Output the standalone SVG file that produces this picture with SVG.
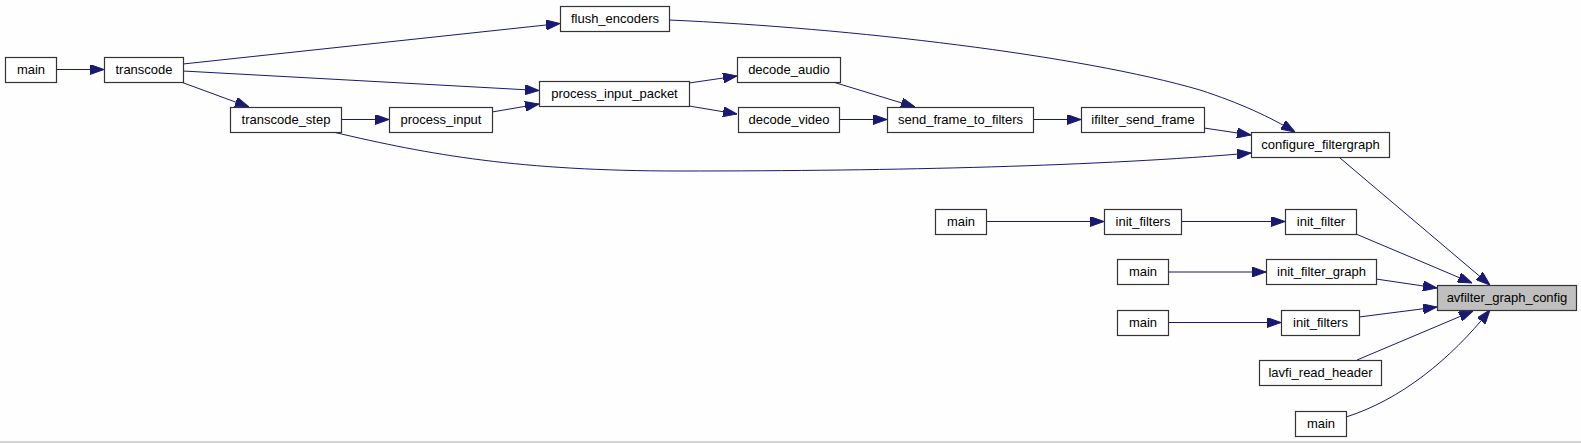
<svg xmlns="http://www.w3.org/2000/svg" width="1581" height="443" viewBox="0 0 1581 443">
<style>
.n rect{fill:#ffffff;stroke:#333333;stroke-width:1.2}
.n.hl rect{fill:#bfbfbf}
.n text{font-family:"Liberation Sans",Arial,sans-serif;font-size:13px;text-anchor:middle;fill:#000000}
#edges path{fill:none;stroke:#191970;stroke-width:1;marker-end:url(#ah)}
</style>
<defs>
<marker id="ah" markerWidth="14" markerHeight="10" refX="14" refY="5" orient="auto" markerUnits="userSpaceOnUse">
<path d="M0,0 L14,5 L0,10 z" fill="#191970" stroke="#191970" stroke-width="1"/>
</marker>
</defs>
<rect x="0" y="0" width="1581" height="443" fill="#fdfefd"/>
<line x1="0" y1="442" x2="1581" y2="442" stroke="#a8a8a8" stroke-width="1"/>
<g id="edges">
<path d="M56,69.5 L104,69.5"/>
<path d="M183,64 L560,23.5"/>
<path d="M183,71 L539,90.5"/>
<path d="M181,82 L249,107"/>
<path d="M341,119.5 L389,119.5"/>
<path d="M333,132 C430,155 520,171 680,171 C900,171 1100,166 1251,153"/>
<path d="M492,112 L539,104"/>
<path d="M689,83 L737,76"/>
<path d="M689,106 L737,114"/>
<path d="M833,82 L915,107"/>
<path d="M839,119.5 L887,119.5"/>
<path d="M1033,119.5 L1081,119.5"/>
<path d="M1204,128 L1251,135"/>
<path d="M669,20 C850,28 1080,55 1200,90 C1240,103 1270,117 1295,132"/>
<path d="M1340,158 L1490,285"/>
<path d="M986,221.5 L1104,221.5"/>
<path d="M1181,221.5 L1285,221.5"/>
<path d="M1356,234 L1472,283"/>
<path d="M1168,272 L1266,272"/>
<path d="M1376,279 L1437,288"/>
<path d="M1168,322.5 L1281,322.5"/>
<path d="M1359,317 L1437,307"/>
<path d="M1357,360 L1473,311"/>
<path d="M1346,417 C1400,400 1450,360 1490,310"/>
</g>
<g id="n1" class="n"><rect x="5.5" y="57.5" width="51" height="25"/><text x="31" y="74">main</text></g>
<g id="n2" class="n"><rect x="104.5" y="57.5" width="79" height="25"/><text x="144" y="74">transcode</text></g>
<g id="n3" class="n"><rect x="230.5" y="107.5" width="111" height="25"/><text x="286" y="124">transcode_step</text></g>
<g id="n4" class="n"><rect x="389.5" y="107.5" width="103" height="25"/><text x="441" y="124">process_input</text></g>
<g id="n5" class="n"><rect x="560.5" y="6.5" width="109" height="25"/><text x="615" y="23">flush_encoders</text></g>
<g id="n6" class="n"><rect x="539.5" y="81.5" width="150" height="25"/><text x="614.5" y="98">process_input_packet</text></g>
<g id="n7" class="n"><rect x="737.5" y="57.5" width="103" height="25"/><text x="789" y="74">decode_audio</text></g>
<g id="n8" class="n"><rect x="738.5" y="107.5" width="101" height="25"/><text x="789" y="124">decode_video</text></g>
<g id="n9" class="n"><rect x="887.5" y="107.5" width="146" height="25"/><text x="960.5" y="124">send_frame_to_filters</text></g>
<g id="n10" class="n"><rect x="1081.5" y="107.5" width="123" height="25"/><text x="1143" y="124">ifilter_send_frame</text></g>
<g id="n11" class="n"><rect x="1251.5" y="132.5" width="138" height="25"/><text x="1320.5" y="149">configure_filtergraph</text></g>
<g id="n12" class="n"><rect x="935.5" y="209.5" width="51" height="25"/><text x="961" y="226">main</text></g>
<g id="n13" class="n"><rect x="1104.5" y="209.5" width="77" height="25"/><text x="1143" y="226">init_filters</text></g>
<g id="n14" class="n"><rect x="1285.5" y="209.5" width="71" height="25"/><text x="1321" y="226">init_filter</text></g>
<g id="n15" class="n"><rect x="1117.5" y="259.5" width="51" height="25"/><text x="1143" y="276">main</text></g>
<g id="n16" class="n"><rect x="1266.5" y="259.5" width="110" height="25"/><text x="1321.5" y="276">init_filter_graph</text></g>
<g id="n17" class="n"><rect x="1117.5" y="310.5" width="51" height="25"/><text x="1143" y="327">main</text></g>
<g id="n18" class="n"><rect x="1281.5" y="310.5" width="78" height="25"/><text x="1320.5" y="327">init_filters</text></g>
<g id="n19" class="n"><rect x="1259.5" y="360.5" width="122" height="25"/><text x="1320.5" y="377">lavfi_read_header</text></g>
<g id="n20" class="n"><rect x="1295.5" y="411.5" width="51" height="25"/><text x="1321" y="428">main</text></g>
<g id="n21" class="n hl"><rect x="1437.5" y="285.5" width="139" height="25"/><text x="1507" y="302">avfilter_graph_config</text></g>
</svg>
